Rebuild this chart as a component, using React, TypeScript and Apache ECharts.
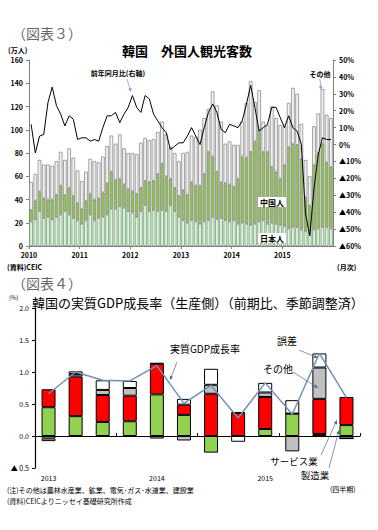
import React, { useEffect, useRef } from 'react';
import * as echarts from 'echarts';

// ---------- 図表3: 韓国 外国人観光客数 (万人), monthly 2010-2015 ----------
const years = [2010, 2011, 2012, 2013, 2014, 2015];
const monthKeys: string[] = [];
years.forEach((y) => {
  for (let m = 1; m <= 12; m++) monthKeys.push(`${y}-${m}`);
});

const japan = [
  21, 23, 30, 24, 25, 23, 25, 27, 30, 27, 24, 22,
  19, 22, 27, 22, 24, 25, 27, 32, 32, 34, 33, 30,
  29, 25, 30, 35, 30, 31, 30, 31, 30, 35, 30, 25,
  22, 20, 22, 21, 19, 21, 22, 25, 23, 24, 22, 21,
  22, 19, 20, 19, 18, 19, 21, 22, 19, 20, 19, 18,
  17, 15, 16, 16, 14, 13, 10, 14, 15, 16, 16, 15,
];
const china = [
  10, 16, 17, 17, 15, 17, 19, 25, 14, 23, 19, 15,
  13, 17, 18, 18, 17, 21, 27, 32, 25, 24, 20, 19,
  18, 20, 20, 21, 25, 25, 32, 40, 30, 23, 20, 18,
  26, 24, 33, 31, 33, 41, 59, 52, 41, 31, 32, 32,
  29, 39, 57, 57, 63, 71, 79, 59, 62, 48, 45, 40,
  53, 70, 72, 71, 61, 29, 25, 56, 65, 72, 56, 53,
];
const others = [
  24, 23, 27, 29, 30, 29, 29, 29, 30, 34, 33, 28,
  24, 25, 30, 33, 31, 31, 32, 31, 31, 38, 31, 31,
  33, 34, 39, 37, 36, 36, 36, 36, 36, 27, 30, 30,
  32, 37, 40, 42, 48, 48, 37, 56, 57, 52, 34, 37,
  36, 29, 30, 47, 61, 34, 34, 26, 23, 52, 46, 46,
  33, 38, 48, 44, 30, 32, 25, 33, 34, 47, 41, 42,
];
const yoy = [
  12, -5, 5, 6, 25, 34, 23, 18, 11, 17, 15, 3,
  4, 4, 2, 3, 2, 10, 17, 17, 19, 13, 18, 22,
  29, 22, 19, 29, 27, 18, 14, 10, 7, -3, -1, 1,
  1, 5, 10, 5, 0, 10, 19, 24, 19, 9, 7, 12,
  11, 10, 14, 24, 35, 22, 8, 10, 12, 22, 22, 16,
  10, 17, 10, 8, 0, -41, -54, -26, -6, 4, 3, 3,
];

// ---------- 図表4: 韓国の実質GDP成長率 (%), quarterly 2013Q1-2015Q4 ----------
const quarters = ['2013Q1', '2013Q2', '2013Q3', '2013Q4', '2014Q1', '2014Q2', '2014Q3', '2014Q4', '2015Q1', '2015Q2', '2015Q3', '2015Q4'];
const quarterLabels = ['2013', '', '', '', '2014', '', '', '', '2015', '', '', ''];
const manufacturing = [0.45, 0.31, 0.22, 0.23, 0.65, 0.33, -0.26, 0, 0.11, 0.35, 0.03, 0.17];
const services = [0.28, 0.62, 0.42, 0.40, 0.48, 0.16, 0.66, 0.36, 0.50, 0, 0.55, 0.44];
const otherInd = [-0.04, 0.04, 0.08, 0.12, -0.04, -0.07, 0.14, 0.01, 0.07, -0.24, 0.49, -0.04];
const errorTerm = [-0.04, 0.04, 0.15, 0.11, 0.01, 0.09, 0.25, -0.09, 0.15, 0.21, 0.22, 0];
const gdp = [0.66, 1.0, 0.87, 0.86, 1.1, 0.51, 0.79, 0.28, 0.83, 0.34, 1.29, 0.6];

const FONT = "'Noto Sans CJK JP', 'Noto Sans', sans-serif";

function txt(text: string, x: number, y: number, size: number, opts: any = {}) {
  return {
    type: 'text',
    x,
    y,
    z: 100,
    style: {
      text,
      fill: opts.fill || '#000',
      font: `${opts.weight || 'normal'} ${size}px ${FONT}`,
      align: opts.align || 'left',
      verticalAlign: 'middle',
      backgroundColor: opts.bg,
      padding: opts.pad,
    },
  };
}

function arrow(x1: number, y1: number, x2: number, y2: number, color: string, lw = 0.8) {
  const ang = Math.atan2(y2 - y1, x2 - x1);
  const L = 4;
  const Wd = 1.8;
  const bx = x2 - L * Math.cos(ang);
  const by = y2 - L * Math.sin(ang);
  const px = -Math.sin(ang) * Wd;
  const py = Math.cos(ang) * Wd;
  return [
    { type: 'line', z: 100, shape: { x1, y1, x2: bx, y2: by }, style: { stroke: color, lineWidth: lw } },
    { type: 'polygon', z: 100, shape: { points: [[x2, y2], [bx + px, by + py], [bx - px, by - py]] }, style: { fill: color } },
  ];
}

const axisGray = '#808080';

const option: any = {
  animation: false,
  backgroundColor: '#ffffff',
  textStyle: { fontFamily: FONT },
  grid: [
    { left: 29, top: 60, width: 304, height: 186 },
    { left: 35, top: 308, width: 325, height: 160 },
  ],
  xAxis: [
    {
      gridIndex: 0, type: 'category', data: monthKeys,
      axisLine: { show: true, onZero: false, lineStyle: { color: axisGray } },
      axisTick: { show: false }, axisLabel: { show: false },
    },
    {
      gridIndex: 0, type: 'value', min: 0, max: 72, interval: 12, position: 'bottom',
      axisLine: { show: false, onZero: false },
      axisTick: { show: true, length: 3, lineStyle: { color: axisGray } },
      splitLine: { show: false },
      axisLabel: {
        fontSize: 7, color: '#000', margin: 5, fontWeight: 'bold', showMaxLabel: false,
        formatter: (v: number) => String(years[0] + v / 12),
      },
    },
    {
      gridIndex: 1, type: 'category', data: quarters,
      axisLine: { show: true, onZero: true, lineStyle: { color: '#000', width: 1 } },
      axisTick: { show: true, inside: true, length: 3, lineStyle: { color: '#000' } },
      axisLabel: { show: false },
    },
    {
      gridIndex: 1, type: 'category', data: quarterLabels, position: 'bottom',
      axisLine: { show: false, onZero: false }, axisTick: { show: false },
      axisLabel: { fontSize: 7, color: '#000', margin: 6, interval: 0 },
    },
  ],
  yAxis: [
    {
      gridIndex: 0, type: 'value', min: 0, max: 160, interval: 20,
      axisLine: { show: true, lineStyle: { color: axisGray } },
      axisTick: { show: true, length: 3, lineStyle: { color: axisGray } },
      splitLine: { show: false },
      axisLabel: { fontSize: 7, color: '#000', margin: 6, fontWeight: 'bold' },
    },
    {
      gridIndex: 0, type: 'value', min: -60, max: 50, interval: 10, position: 'right',
      axisLine: { show: true, lineStyle: { color: axisGray } },
      axisTick: { show: true, length: 3, lineStyle: { color: axisGray } },
      splitLine: { show: false },
      axisLabel: {
        fontSize: 7, color: '#000', margin: 6, fontWeight: 'bold',
        formatter: (v: number) => (v < 0 ? '▲' + Math.abs(v) + '%' : v + '%'),
      },
    },
    {
      gridIndex: 1, type: 'value', min: -0.5, max: 2.0, interval: 0.5,
      axisLine: { show: true, lineStyle: { color: '#000', width: 1.2 } },
      axisTick: { show: true, length: 3, lineStyle: { color: '#000' } },
      splitLine: { show: false },
      axisLabel: {
        fontSize: 7, color: '#000', margin: 6,
        formatter: (v: number) => (v < 0 ? '▲ ' + Math.abs(v).toFixed(1) : v.toFixed(1)),
      },
    },
  ],
  series: [
    {
      name: '日本人', type: 'bar', xAxisIndex: 0, yAxisIndex: 0, stack: 'visitors', data: japan,
      barCategoryGap: '15%',
      itemStyle: { color: '#ccffcc', borderColor: '#7f7f7f', borderWidth: 0.7 },
    },
    {
      name: '中国人', type: 'bar', xAxisIndex: 0, yAxisIndex: 0, stack: 'visitors', data: china,
      barCategoryGap: '15%',
      itemStyle: { color: '#92c35a', borderColor: '#7f7f7f', borderWidth: 0.7 },
    },
    {
      name: 'その他', type: 'bar', xAxisIndex: 0, yAxisIndex: 0, stack: 'visitors', data: others,
      barCategoryGap: '15%',
      itemStyle: { color: '#f2f2f2', borderColor: '#7f7f7f', borderWidth: 0.7 },
    },
    {
      name: '前年同月比', type: 'line', xAxisIndex: 0, yAxisIndex: 1, data: yoy,
      symbol: 'none', lineStyle: { color: '#000', width: 1 }, z: 5,
    },
    {
      name: '製造業', type: 'bar', xAxisIndex: 2, yAxisIndex: 2, stack: 'gdp', data: manufacturing,
      barWidth: 14, itemStyle: { color: '#92d050', borderColor: '#000', borderWidth: 1 },
    },
    {
      name: 'サービス業', type: 'bar', xAxisIndex: 2, yAxisIndex: 2, stack: 'gdp', data: services,
      barWidth: 14, itemStyle: { color: '#ff0000', borderColor: '#000', borderWidth: 1 },
    },
    {
      name: 'その他産業', type: 'bar', xAxisIndex: 2, yAxisIndex: 2, stack: 'gdp', data: otherInd,
      barWidth: 14, itemStyle: { color: '#c0c0c0', borderColor: '#000', borderWidth: 1 },
    },
    {
      name: '誤差', type: 'bar', xAxisIndex: 2, yAxisIndex: 2, stack: 'gdp', data: errorTerm,
      barWidth: 14, itemStyle: { color: '#ffffff', borderColor: '#000', borderWidth: 1 },
    },
    {
      name: '実質GDP成長率', type: 'line', xAxisIndex: 2, yAxisIndex: 2, data: gdp,
      symbol: 'none', lineStyle: { color: '#7391b5', width: 1.5 }, z: 5,
    },
  ],
  graphic: [
    // Chart 3 texts
    txt('（図表３）', 12, 33, 14, { fill: '#666' }),
    txt('(万人)', 8, 50, 7, { weight: 'bold' }),
    txt('韓国　外国人観光客数', 187, 50, 13, { weight: 'bold', align: 'center' }),
    txt('前年同月比(右軸)', 118, 73, 7, { weight: 'bold', align: 'center' }),
    ...arrow(127, 79, 131, 92, '#7fa6d6'),
    txt('その他', 320, 74, 7, { weight: 'bold', align: 'center' }),
    ...arrow(320, 79, 321, 90, '#7fa6d6'),
    txt('中国人', 272, 202, 8, { weight: 'bold', align: 'center', bg: '#ffffff', pad: [1, 2] }),
    txt('日本人', 272, 238, 8, { weight: 'bold', align: 'center', bg: '#ffffff', pad: [1, 2] }),
    txt('(資料)CEIC', 7, 267, 7, { weight: 'bold' }),
    txt('(月次)', 337, 267, 7, { weight: 'bold' }),
    // Chart 4 texts
    txt('（図表４）', 12, 283, 14, { fill: '#666' }),
    txt('(%)', 9, 297, 6),
    txt('韓国の実質GDP成長率（生産側）（前期比、季節調整済）', 32, 302, 13, {}),
    txt('実質GDP成長率', 205, 348, 10, { align: 'center' }),
    ...arrow(177, 362, 170, 380, '#4f6a8c', 0.7),
    txt('誤差', 287, 340, 10, { align: 'center' }),
    ...arrow(299, 350, 318, 358, '#4f6a8c', 0.7),
    txt('その他', 278, 368, 10, { align: 'center' }),
    ...arrow(293, 372, 318, 388, '#4f6a8c', 0.7),
    txt('サービス業', 294, 461, 9.5, { align: 'center' }),
    ...arrow(321, 455, 337, 420, '#4f6a8c', 0.7),
    txt('製造業', 315, 475, 9.5, { align: 'center' }),
    ...arrow(329, 468, 339, 430, '#4f6a8c', 0.7),
    txt('(四半期)', 330, 489, 7),
    txt('(注)その他は農林水産業、鉱業、電気･ガス･水道業、建設業', 7, 490, 7),
    txt('(資料)CEICよりニッセイ基礎研究所作成', 7, 501, 7),
  ],
};

export default function App() {
  const ref = useRef<HTMLDivElement>(null);
  useEffect(() => {
    if (!ref.current) return;
    const chart = echarts.init(ref.current, null, { renderer: 'svg' });
    chart.setOption(option);
    return () => chart.dispose();
  }, []);
  return (
    <div
      ref={ref}
      style={{ position: 'absolute', left: 0, top: 0, width: 378, height: 530, background: '#fff' }}
    />
  );
}
